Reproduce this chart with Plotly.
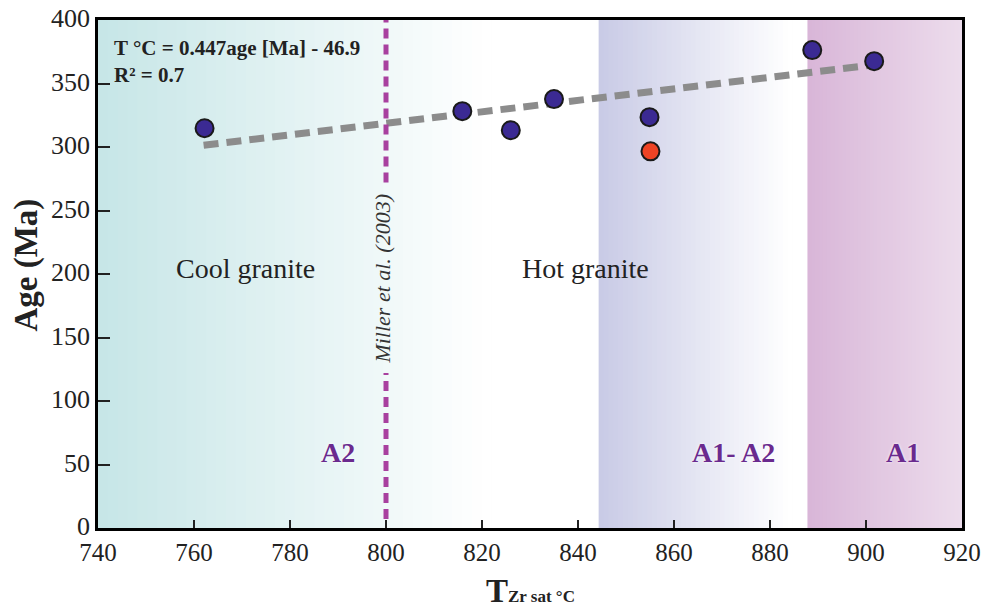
"""
Zircon saturation temperature vs age - recreated with Plotly.
"""

import plotly.graph_objects as go

# sample data
temp_blue = [762.2, 815.9, 826.0, 835.0, 854.9, 888.8, 901.7]
age_blue = [314.8, 328.2, 313.2, 337.7, 323.5, 376.3, 367.6]
temp_red = [855.1]
age_red = [296.6]

# regression line end points
trend_temp = [762.0, 901.3]
trend_age = [301.4, 364.5]

# Miller et al. (2003) boundary
miller_temp = 800

# background zones: (start, end, colour at start, colour at end)
zones = [
    (740.0, 822.0, (199, 230, 231), (255, 255, 255)),
    (844.3, 884.7, (201, 203, 230), (255, 255, 255)),
    (887.8, 920.0, (217, 182, 216), (236, 220, 236)),
]

x_ticks = [740, 760, 780, 800, 820, 840, 860, 880, 900, 920]
y_ticks = [0, 50, 100, 150, 200, 250, 300, 350, 400]

SERIF = "Liberation Serif, Times New Roman, serif"
PURPLE = "#6a2a8e"


def gradient_shapes(x0, x1, c0, c1, steps=40):
    """Split one zone into thin rects so it looks like a gradient"""
    shapes = []
    w = (x1 - x0) / steps
    for i in range(steps):
        t = i / (steps - 1)
        r, g, b = (round(a + (c - a) * t) for a, c in zip(c0, c1))
        # each rect runs to the zone end, the next one paints over it -> no seams
        shapes.append(dict(
            type="rect", xref="x", yref="y",
            x0=x0 + i * w, x1=x1,
            y0=0, y1=400,
            fillcolor=f"rgb({r},{g},{b})",
            line=dict(width=0), layer="below",
        ))
    return shapes


shapes = []
for z in zones:
    shapes += gradient_shapes(*z)

# Miller line, broken where its label sits
for y0, y1 in [(7, 122), (272, 400)]:
    shapes.append(dict(
        type="line", xref="x", yref="y",
        x0=miller_temp, x1=miller_temp, y0=y0, y1=y1,
        line=dict(color="#a8409f", width=5, dash="10px,6px"),
        layer="above",
    ))

fig = go.Figure()

fig.add_trace(go.Scatter(
    x=trend_temp, y=trend_age, mode="lines",
    line=dict(color="#8c8c8c", width=7, dash="15px,8px"),
    hoverinfo="skip", showlegend=False,
))

fig.add_trace(go.Scatter(
    x=temp_blue, y=age_blue, mode="markers",
    marker=dict(size=18, color="#3b2a93", line=dict(color="#1a1a1a", width=2)),
    showlegend=False,
))

fig.add_trace(go.Scatter(
    x=temp_red, y=age_red, mode="markers",
    marker=dict(size=18, color="#ee4324", line=dict(color="#1a1a1a", width=2)),
    showlegend=False,
))

annotations = [
    dict(x=742.9, y=367.6, xref="x", yref="y", xanchor="left", yanchor="middle",
         align="left", showarrow=False,
         text="<b>T °C = 0.447age [Ma] - 46.9<br>R² = 0.7</b>",
         font=dict(family=SERIF, size=21, color="#222222")),
    dict(x=770.8, y=204, xref="x", yref="y", showarrow=False,
         text="Cool granite", font=dict(family=SERIF, size=28, color="#222222")),
    dict(x=841.6, y=204, xref="x", yref="y", showarrow=False,
         text="Hot granite", font=dict(family=SERIF, size=28, color="#222222")),
    dict(x=799.2, y=196.5, xref="x", yref="y", showarrow=False, textangle=-90,
         text="<i>Miller et al. (2003)</i>",
         font=dict(family=SERIF, size=22, color="#333333")),
    # axis titles placed by hand
    dict(x=0.5, y=-0.124, xref="paper", yref="paper", showarrow=False,
         xanchor="center", yanchor="middle",
         text="<b>T</b><span style='font-size:17px'><b>Zr sat °C</b></span>",
         font=dict(family=SERIF, size=33, color="#222222")),
    dict(x=-0.0825, y=0.518, xref="paper", yref="paper", showarrow=False,
         xanchor="center", yanchor="middle",
         textangle=-90, text="<b>Age (Ma)</b>",
         font=dict(family=SERIF, size=33, color="#222222")),
]
for label, xpos in [("A2", 789.9), ("A1- A2", 872.4), ("A1", 907.7)]:
    annotations.append(dict(
        x=xpos, y=59.2, xref="x", yref="y", showarrow=False,
        text=f"<b>{label}</b>",
        font=dict(family=SERIF, size=28, color=PURPLE, shadow="0px 0px 3px white"),
    ))

# page body has an 8px margin; leave room so the 920 label is not cut
fig.update_layout(
    width=981, height=602,
    margin=dict(l=90, r=27, t=12, b=82),
    paper_bgcolor="white", plot_bgcolor="white",
    shapes=shapes, annotations=annotations,
    font=dict(family=SERIF, color="#222222"),
)

fig.update_xaxes(
    range=[740, 920], tickvals=x_ticks,
    ticks="inside", ticklen=8, tickwidth=1.5, tickcolor="#222",
    tickfont=dict(family=SERIF, size=25), ticklabeloverflow="allow",
    showgrid=False, zeroline=False, automargin=False,
    showline=True, mirror=True, linecolor="black", linewidth=2.5,
)
fig.update_yaxes(
    range=[0, 400], tickvals=y_ticks,
    ticks="inside", ticklen=12, tickwidth=2, tickcolor="#222",
    tickfont=dict(family=SERIF, size=26), ticklabelshift=-2,
    ticklabeloverflow="allow",
    showgrid=False, zeroline=False, automargin=False,
    showline=True, mirror=True, linecolor="black", linewidth=2.5,
)

fig.write_html("out.html")
